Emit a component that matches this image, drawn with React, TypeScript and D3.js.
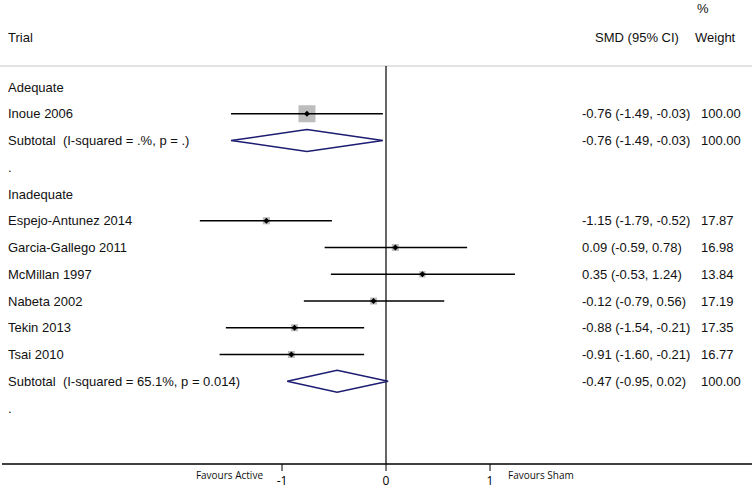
import React from "react";
import * as d3 from "d3";

const studyLabels = [
  "Inoue 2006",
  "Espejo-Antunez 2014",
  "Garcia-Gallego 2011",
  "McMillan 1997",
  "Nabeta 2002",
  "Tekin 2013",
  "Tsai 2010",
];
const studyRows = [1, 5, 6, 7, 8, 9, 10];
const studySMD = [-0.76, -1.15, 0.09, 0.35, -0.12, -0.88, -0.91];
const studyLo = [-1.49, -1.79, -0.59, -0.53, -0.79, -1.54, -1.6];
const studyHi = [-0.03, -0.52, 0.78, 1.24, 0.56, -0.21, -0.21];
const studyWeight = [100.0, 17.87, 16.98, 13.84, 17.19, 17.35, 16.77];

const groupLabels = ["Adequate", "Inadequate"];
const groupRows = [0, 4];

const subtotalLabels = [
  "Subtotal  (I-squared = .%, p = .)",
  "Subtotal  (I-squared = 65.1%, p = 0.014)",
];
const subtotalRows = [2, 11];
const subtotalSMD = [-0.76, -0.47];
const subtotalLo = [-1.49, -0.95];
const subtotalHi = [-0.03, 0.02];
const subtotalWeight = [100.0, 100.0];

const dotRows = [3, 12];
const xTicks = [-1, 0, 1];

const W = 752;
const H = 488;

const fmt = (v: number) => d3.format(".2f")(v).replace("\u2212", "-");
const ciText = (m: number, l: number, h: number) => `${fmt(m)} (${fmt(l)}, ${fmt(h)})`;

export default function App() {
  const x = d3.scaleLinear().domain([0, 1]).range([386, 490]);
  const y = d3.scaleLinear().domain([0, 12]).range([87, 408]);
  const boxSide = d3.scaleSqrt().domain([0, 100]).range([0, 17]);

  const font = "'Liberation Sans', Arial, Helvetica, sans-serif";
  const axisFont = "'Open Sans', Lato, sans-serif";
  const fs = 13;
  const ciX = 582;
  const wX = 701;
  const axisY = 464;
  const topY = 66;
  const navy = "#1c1c72";
  const pre = { whiteSpace: "pre" as const };

  return (
    <svg
      width={W}
      height={H}
      style={{ position: "absolute", left: 0, top: 0, background: "#fff" }}
      fontFamily={font}
    >
      <rect x={0} y={0} width={W} height={H} fill="#fff" />
      {/* header */}
      <text x={697} y={8} fontSize={fs} dominantBaseline="central" fill="#111">%</text>
      <text x={8} y={37} fontSize={fs} dominantBaseline="central" fill="#111">Trial</text>
      <text x={637} y={37} fontSize={fs} dominantBaseline="central" textAnchor="middle" fill="#111">SMD (95% CI)</text>
      <text x={695} y={37} fontSize={fs} dominantBaseline="central" fill="#111">Weight</text>
      <line x1={0} x2={W} y1={topY} y2={topY} stroke="#d9d9d9" strokeWidth={1.5} />

      {/* zero line */}
      <line x1={x(0)} x2={x(0)} y1={topY} y2={axisY} stroke="#000" strokeWidth={1.2} />

      {groupLabels.map((g, i) => (
        <text key={g} x={8} y={y(groupRows[i])} fontSize={fs} dominantBaseline="central" fill="#111">{g}</text>
      ))}
      {dotRows.map((r) => (
        <text key={"d" + r} x={8} y={y(r)} fontSize={fs} dominantBaseline="central" fill="#111">.</text>
      ))}

      {studyLabels.map((s, i) => {
        const cy = y(studyRows[i]);
        const side = boxSide(studyWeight[i]);
        const cx = x(studySMD[i]);
        const m = 3;
        return (
          <g key={s}>
            <text x={8} y={cy} fontSize={fs} dominantBaseline="central" fill="#111">{s}</text>
            <rect x={cx - side / 2} y={cy - side / 2} width={side} height={side} fill="#bdbdbd" />
            <line x1={x(studyLo[i])} x2={x(studyHi[i])} y1={cy} y2={cy} stroke="#000" strokeWidth={1.5} />
            <path d={`M${cx},${cy - m}L${cx + m},${cy}L${cx},${cy + m}L${cx - m},${cy}Z`} fill="#000" />
            <text x={ciX} y={cy} fontSize={fs} dominantBaseline="central" fill="#111">{ciText(studySMD[i], studyLo[i], studyHi[i])}</text>
            <text x={wX} y={cy} fontSize={fs} dominantBaseline="central" fill="#111">{fmt(studyWeight[i])}</text>
          </g>
        );
      })}

      {subtotalLabels.map((s, i) => {
        const cy = y(subtotalRows[i]);
        const h = 11;
        const d = `M${x(subtotalLo[i])},${cy}L${x(subtotalSMD[i])},${cy - h}L${x(subtotalHi[i])},${cy}L${x(subtotalSMD[i])},${cy + h}Z`;
        return (
          <g key={s}>
            <text x={8} y={cy} fontSize={fs} dominantBaseline="central" fill="#111" style={pre}>{s}</text>
            <path d={d} fill="none" stroke={navy} strokeWidth={1.5} />
            <text x={ciX} y={cy} fontSize={fs} dominantBaseline="central" fill="#111">{ciText(subtotalSMD[i], subtotalLo[i], subtotalHi[i])}</text>
            <text x={wX} y={cy} fontSize={fs} dominantBaseline="central" fill="#111">{fmt(subtotalWeight[i])}</text>
          </g>
        );
      })}

      {/* axis */}
      <line x1={2} x2={W} y1={axisY} y2={axisY} stroke="#000" strokeWidth={1.5} />
      {xTicks.map((t) => (
        <g key={t}>
          <line x1={x(t)} x2={x(t)} y1={axisY} y2={axisY + 7} stroke="#000" strokeWidth={1} />
          <text x={x(t)} y={480.5} fontSize={12} textAnchor="middle" dominantBaseline="central" fontFamily={axisFont} fill="#000">{t === -1 ? "-1" : String(t)}</text>
        </g>
      ))}
      <text x={263} y={475} fontSize={10} textAnchor="end" dominantBaseline="central" fontFamily={axisFont} fill="#111">Favours Active</text>
      <text x={508} y={475} fontSize={10} dominantBaseline="central" fontFamily={axisFont} fill="#111">Favours Sham</text>
    </svg>
  );
}
